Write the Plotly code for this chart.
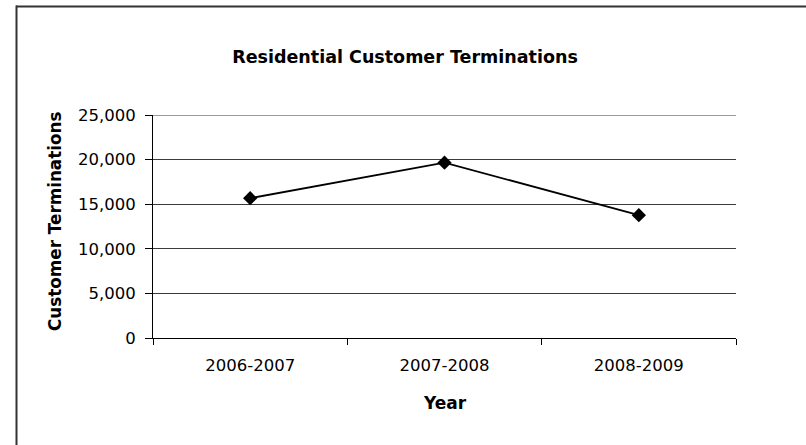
import plotly.graph_objects as go

years = ["2006-2007", "2007-2008", "2008-2009"]
terminations = [15670, 19660, 13770]
y_ticks = [0, 5000, 10000, 15000, 20000, 25000]
y_tick_labels = ["0", "5,000", "10,000", "15,000", "20,000", "25,000"]

W, H = 806, 445
ML, MR, MT, MB = 153, 70, 115, 107
PW, PH = W - ML - MR, H - MT - MB

def px_x(x):
    return (x - ML) / PW

def px_y(y):
    return (H - MB - y) / PH

font = "DejaVu Sans, Arial, sans-serif"

fig = go.Figure()
fig.add_trace(go.Scatter(
    x=years, y=terminations, mode="lines+markers",
    line=dict(color="black", width=1.8),
    marker=dict(symbol="diamond", size=11, color="black"),
    showlegend=False, hoverinfo="skip",
))

fig.update_layout(
    width=W, height=H,
    margin=dict(l=ML, r=MR, t=MT, b=MB),
    paper_bgcolor="white", plot_bgcolor="white",
    font=dict(family=font, size=16.5, color="black"),
    title=dict(text="<b>Residential Customer Terminations</b>",
               font=dict(family=font, size=17.5, color="black"),
               xref="paper", x=px_x(405), xanchor="center",
               yref="container", y=1 - 57 / H, yanchor="middle"),
    xaxis=dict(type="category", range=[-0.5, 2.5], tickson="boundaries",
               ticks="outside", ticklen=6, tickcolor="black",
               showline=True, linecolor="black", linewidth=1,
               showgrid=False, ticklabelstandoff=12,
               tickfont=dict(size=16.5), fixedrange=True),
    yaxis=dict(range=[0, 25000], tickvals=y_ticks, ticktext=y_tick_labels,
               ticks="outside", ticklen=7, tickcolor="black",
               showline=True, linecolor="black", linewidth=1,
               showgrid=True, gridcolor="#3a3a3a", gridwidth=1,
               zeroline=False, ticklabelstandoff=6,
               tickfont=dict(size=16.5), fixedrange=True),
    annotations=[
        dict(text="<b>Customer Terminations</b>", textangle=-90,
             xref="paper", yref="paper", x=px_x(55), y=px_y(222),
             xanchor="center", yanchor="middle", showarrow=False,
             font=dict(family=font, size=16.8, color="black")),
        dict(text="<b>Year</b>",
             xref="paper", yref="paper", x=px_x(445), y=px_y(403),
             xanchor="center", yanchor="middle", showarrow=False,
             font=dict(family=font, size=17, color="black")),
    ],
    shapes=[
        dict(type="line", xref="paper", yref="y",
             x0=0, x1=1, y0=y_ticks[-1], y1=y_ticks[-1],
             line=dict(color="#7a7a7a", width=1.5)),
        dict(type="line", xref="paper", yref="paper",
             x0=px_x(16), x1=px_x(W + 2), y0=px_y(6.5), y1=px_y(6.5),
             line=dict(color="#333333", width=2)),
        dict(type="line", xref="paper", yref="paper",
             x0=px_x(16.5), x1=px_x(16.5), y0=px_y(5.5), y1=px_y(H + 2),
             line=dict(color="#333333", width=2)),
    ],
)

fig.write_html(
    "out.html",
    config={"displayModeBar": False, "staticPlot": True},
    post_script="document.body.style.margin='0';document.body.style.padding='0';",
)
